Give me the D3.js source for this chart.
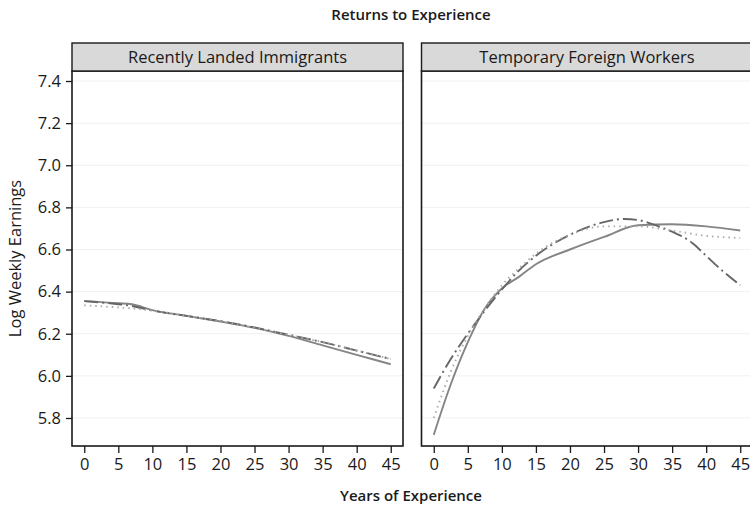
<!DOCTYPE html>
<html><head><meta charset="utf-8">
<script src="https://cdn.jsdelivr.net/npm/d3@7/dist/d3.min.js"></script>
<style>body{margin:0;background:#fff;} svg{display:block;} text{font-family:"Open Sans","Noto Sans",sans-serif;}</style>
</head><body><svg id="c" width="750" height="507"></svg>
<script>
const panels = ["Recently Landed Immigrants", "Temporary Foreign Workers"];
const xTicks = [0,5,10,15,20,25,30,35,40,45];
const yTicks = [5.8,6.0,6.2,6.4,6.6,6.8,7.0,7.2,7.4];

// Recently Landed Immigrants
const rliX = [0,5,7,10,15,20,25,30,35,40,45];
const rliSolid  = [6.355,6.345,6.340,6.312,6.285,6.258,6.228,6.190,6.145,6.100,6.055];
const rliDash   = [6.355,6.340,6.332,6.310,6.285,6.260,6.230,6.195,6.160,6.120,6.080];
const rliDot    = [6.335,6.325,6.320,6.310,6.285,6.258,6.228,6.195,6.160,6.120,6.080];

// Temporary Foreign Workers
const tfwSolidX = [0,2.5,5,7.5,10,12.5,15,20,25,30,35,40,45];
const tfwSolid  = [5.72,5.96,6.16,6.32,6.415,6.47,6.53,6.60,6.66,6.715,6.72,6.71,6.69];
const tfwDashX  = [0,2.5,5,7.5,10,12.5,15,20,25,28,30,33,35,38,40,42,45];
const tfwDash   = [5.94,6.08,6.20,6.31,6.41,6.50,6.57,6.67,6.73,6.745,6.74,6.71,6.685,6.63,6.57,6.51,6.43];
const tfwDotX   = [0,2.5,5,7.5,10,12.5,15,20,25,30,35,40,45];
const tfwDot    = [5.80,6.02,6.19,6.32,6.43,6.51,6.58,6.67,6.71,6.71,6.69,6.665,6.655];

const series = [
  [{x:rliX,y:rliSolid,s:"solid"},{x:rliX,y:rliDash,s:"dash"},{x:rliX,y:rliDot,s:"dot"}],
  [{x:tfwSolidX,y:tfwSolid,s:"solid"},{x:tfwDashX,y:tfwDash,s:"dash"},{x:tfwDotX,y:tfwDot,s:"dot"}]
];
const styles = {
  solid:{stroke:"#858585",dash:null,w:1.9},
  dash:{stroke:"#666666",dash:"14,4,2,4",w:1.9},
  dot:{stroke:"#aaaaaa",dash:"1.5,4",w:1.9}
};

const svg = d3.select("#c");
const pTop = 71, pBottom = 446, stripTop = 43;
const panelLeft = [72, 421.5], panelW = 331;
const y = d3.scaleLinear().domain([5.667,7.4475]).range([pBottom, pTop]);
const FONT = '"Open Sans","Noto Sans",sans-serif';

svg.append("text").attr("x",411).attr("y",20).attr("text-anchor","middle")
  .attr("font-size",15).attr("font-weight",600).attr("fill","#1a1a1a").text("Returns to Experience");
svg.append("text").attr("transform",`translate(21,${(pTop+pBottom)/2}) rotate(-90)`)
  .attr("text-anchor","middle").attr("font-size",16.5).attr("fill","#1a1a1a").text("Log Weekly Earnings");
svg.append("text").attr("x",411).attr("y",501).attr("text-anchor","middle")
  .attr("font-size",15).attr("font-weight",600).attr("fill","#1a1a1a").text("Years of Experience");

panels.forEach((name,i)=>{
  const x0 = panelLeft[i];
  const x = d3.scaleLinear().domain([-1.8,46.8]).range([x0, x0+panelW]);
  const g = svg.append("g");
  g.selectAll(".gl").data(yTicks).join("line")
    .attr("x1",x0).attr("x2",x0+panelW).attr("y1",d=>y(d)).attr("y2",d=>y(d))
    .attr("stroke","#f0f0f0").attr("stroke-width",1);
  series[i].forEach(sr=>{
    const st = styles[sr.s];
    const pts = sr.x.map((v,k)=>[v,sr.y[k]]);
    g.append("path").datum(pts)
      .attr("d", d3.line().x(d=>x(d[0])).y(d=>y(d[1])).curve(d3.curveMonotoneX))
      .attr("fill","none").attr("stroke",st.stroke).attr("stroke-width",st.w)
      .attr("stroke-dasharray",st.dash);
  });
  g.append("rect").attr("x",x0).attr("y",pTop).attr("width",panelW).attr("height",pBottom-pTop)
    .attr("fill","none").attr("stroke","#1a1a1a").attr("stroke-width",1.6);
  g.append("rect").attr("x",x0).attr("y",stripTop).attr("width",panelW).attr("height",pTop-stripTop)
    .attr("fill","#d9d9d9").attr("stroke","#1a1a1a").attr("stroke-width",1.4);
  g.append("text").attr("x",x0+panelW/2).attr("y",stripTop+20).attr("text-anchor","middle")
    .attr("font-size",16.5).attr("fill","#1a1a1a").text(name);
  const xa = g.append("g").attr("transform",`translate(0,${pBottom})`)
    .call(d3.axisBottom(x).tickValues(xTicks).tickSize(7).tickPadding(5).tickFormat(d3.format("d")));
  xa.select(".domain").remove();
  xa.selectAll("line").attr("stroke","#1a1a1a").attr("stroke-width",1.3);
  xa.selectAll("text").attr("font-size",16.5).attr("fill","#1a1a1a").attr("font-family",FONT);
  if(i===0){
    const ya = g.append("g").attr("transform",`translate(${x0},0)`)
      .call(d3.axisLeft(y).tickValues(yTicks).tickSize(6).tickPadding(5).tickFormat(d3.format(".1f")));
    ya.select(".domain").remove();
    ya.selectAll("line").attr("stroke","#1a1a1a").attr("stroke-width",1.3);
    ya.selectAll("text").attr("font-size",16.5).attr("fill","#1a1a1a").attr("font-family",FONT);
  }
});
</script></body></html>
